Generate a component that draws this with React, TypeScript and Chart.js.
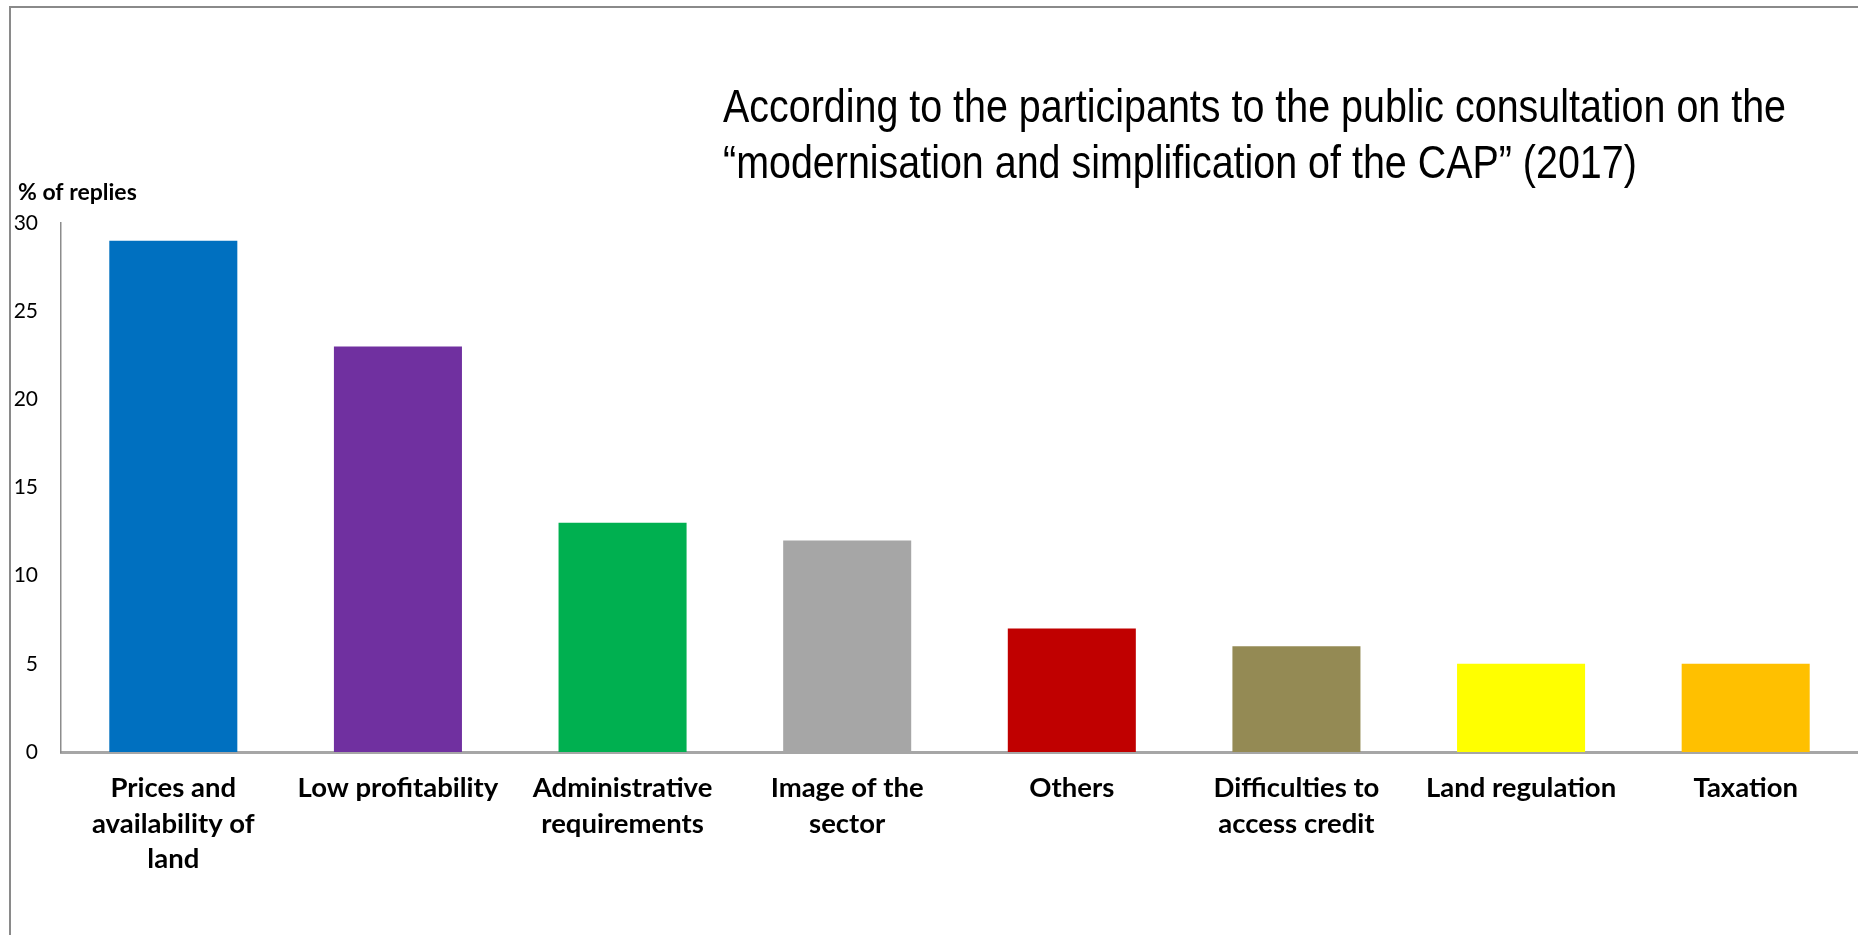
import React, { useEffect, useRef } from "react";
import { Chart, registerables } from "chart.js";

Chart.register(...registerables);

const categories: string[][] = [
  ["Prices and", "availability of", "land"],
  ["Low profitability"],
  ["Administrative", "requirements"],
  ["Image of the", "sector"],
  ["Others"],
  ["Difficulties to", "access credit"],
  ["Land regulation"],
  ["Taxation"],
];
const values: number[] = [29, 23, 13, 12, 7, 6, 5, 5];
const barColors: string[] = [
  "#0070C0",
  "#7030A0",
  "#00B050",
  "#A6A6A6",
  "#C00000",
  "#948A54",
  "#FFFF00",
  "#FFC000",
];
const titleLines: string[] = [
  "According to the participants to the public consultation on the",
  "\u201Cmodernisation and simplification of the CAP\u201D (2017)",
];
const yAxisTitle = "% of replies";

const W = 1858;
const H = 935;

export default function App() {
  const ref = useRef<HTMLCanvasElement | null>(null);

  useEffect(() => {
    if (!ref.current) return;
    const textPlugin = {
      id: "texts",
      afterDraw(chart: any) {
        const ctx = chart.ctx;
        ctx.save();
        ctx.fillStyle = "#000";
        ctx.textBaseline = "alphabetic";
        ctx.textAlign = "left";
        ctx.font = '47px "Liberation Sans Narrow", "Liberation Sans", Arial, sans-serif';
        const w0 = ctx.measureText(titleLines[0]).width;
        const sx = 1063 / w0;
        ctx.save();
        ctx.translate(723, 0);
        ctx.scale(sx, 1);
        ctx.fillText(titleLines[0], 0, 122);
        ctx.fillText(titleLines[1], 0, 178);
        ctx.restore();
        ctx.font = 'bold 23px Lato, "Noto Sans", sans-serif';
        ctx.textBaseline = "middle";
        ctx.fillText(yAxisTitle, 18, 193);
        ctx.restore();
      },
    };
    const chart = new Chart(ref.current, {
      type: "bar",
      data: {
        labels: categories,
        datasets: [
          {
            data: values,
            backgroundColor: barColors,
            borderWidth: 0,
            categoryPercentage: 1,
            barPercentage: 0.57,
          },
        ],
      },
      options: {
        animation: false,
        responsive: false,
        devicePixelRatio: 1,
        layout: { padding: { top: 223, left: 0, right: 0, bottom: 0 } },
        plugins: {
          legend: { display: false },
          tooltip: { enabled: false },
          title: { display: false },
        },
        scales: {
          x: {
            grid: { display: false, drawTicks: false },
            border: { display: true, color: "#A6A6A6", width: 3 },
            ticks: {
              color: "#000",
              font: { family: 'Lato, "Noto Sans", sans-serif', size: 27.5, weight: "bold", lineHeight: 1.28 },
              padding: 19,
              maxRotation: 0,
              minRotation: 0,
              autoSkip: false,
            },
            afterFit: (s: any) => {
              s.height = H - 752;
            },
          },
          y: {
            min: 0,
            max: 30,
            grid: { display: false, drawTicks: false },
            border: { display: true, color: "#8C8C8C", width: 1.5 },
            ticks: {
              stepSize: 5,
              color: "#000",
              font: { family: 'Lato, "Noto Sans", sans-serif', size: 21 },
              padding: 23,
            },
            afterFit: (s: any) => {
              s.width = 61;
            },
          },
        },
      },
      plugins: [textPlugin],
    });
    return () => chart.destroy();
  }, []);

  return (
    <div style={{ position: "absolute", left: 0, top: 0, width: W, height: H, background: "#fff", overflow: "hidden" }}>
      <div
        style={{
          position: "absolute",
          left: 9,
          top: 6,
          width: W,
          height: H,
          borderTop: "2px solid #8A8A8A",
          borderLeft: "2px solid #8A8A8A",
        }}
      />
      <canvas ref={ref} width={W} height={H} style={{ position: "absolute", left: 0, top: 0 }} />
    </div>
  );
}
